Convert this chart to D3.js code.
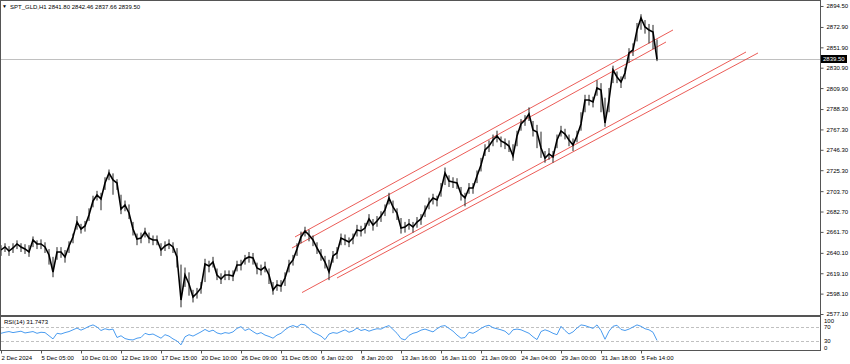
<!DOCTYPE html>
<html>
<head>
<meta charset="utf-8">
<script src="https://cdn.jsdelivr.net/npm/d3@7"></script>
<style>
  body { margin: 0; background: #fff; }
  svg text { font-family: "Liberation Sans", Arial, sans-serif; fill: #000; }
</style>
</head>
<body>
<div id="chart"></div>
<script>
// Hourly closes (one sample every few bars)
const closes = [
  2643.1, 2646.2, 2642.0, 2645.1, 2649.3, 2646.2, 2644.1, 2641.0, 2653.4, 2649.3,
  2649.3, 2646.2, 2637.9, 2620.4, 2641.0, 2641.0, 2635.9, 2647.2, 2656.5, 2671.9,
  2664.7, 2667.8, 2679.1, 2693.6, 2699.8, 2695.6, 2712.1, 2722.4, 2715.2, 2712.1,
  2685.3, 2689.4, 2681.2, 2664.7, 2654.4, 2655.4, 2661.6, 2655.4, 2653.4, 2653.4,
  2643.1, 2647.2, 2649.3, 2646.2, 2635.9, 2591.5, 2617.3, 2608.0, 2594.6, 2598.8,
  2603.9, 2628.6, 2626.6, 2630.7, 2617.3, 2613.2, 2617.3, 2617.3, 2616.3, 2627.6,
  2627.6, 2633.8, 2635.9, 2634.8, 2624.5, 2622.5, 2625.6, 2617.3, 2601.9, 2607.0,
  2606.0, 2614.2, 2627.6, 2632.8, 2644.1, 2656.5, 2662.7, 2658.5, 2653.4, 2645.1,
  2637.9, 2630.7, 2620.4, 2636.9, 2640.0, 2655.4, 2653.4, 2651.3, 2655.4, 2663.7,
  2662.7, 2665.7, 2675.0, 2668.8, 2673.0, 2678.1, 2684.3, 2696.7, 2687.4, 2681.2,
  2665.7, 2666.8, 2669.9, 2666.8, 2671.9, 2675.0, 2683.3, 2691.5, 2696.7, 2694.6,
  2704.9, 2722.4, 2714.2, 2713.1, 2712.1, 2700.8, 2696.7, 2707.0, 2707.0, 2719.3,
  2730.7, 2746.1, 2750.2, 2756.4, 2760.6, 2755.4, 2753.3, 2750.2, 2739.9, 2760.6,
  2772.9, 2777.0, 2783.2, 2766.7, 2764.7, 2748.2, 2737.9, 2742.0, 2738.9, 2756.4,
  2765.7, 2762.6, 2756.4, 2751.3, 2760.6, 2772.9, 2797.6, 2797.6, 2795.6, 2810.0,
  2808.0, 2773.9, 2797.6, 2828.6, 2821.4, 2816.2, 2825.5, 2846.1, 2849.2, 2869.8,
  2882.2, 2872.9, 2869.8, 2867.7, 2839.5
];

// highs and lows of the same stretches
const highs = [
  2648, 2650, 2647, 2650, 2653, 2650, 2649, 2648, 2657, 2653,
  2654, 2651, 2644, 2636, 2646, 2646, 2643, 2652, 2660, 2678,
  2670, 2673, 2686, 2699, 2704, 2702, 2718, 2726, 2722, 2716,
  2700, 2694, 2690, 2672, 2660, 2661, 2666, 2661, 2658, 2658,
  2650, 2652, 2654, 2651, 2645, 2628, 2625, 2620, 2602, 2604,
  2610, 2634, 2632, 2636, 2624, 2619, 2622, 2622, 2622, 2632,
  2633, 2638, 2641, 2640, 2630, 2628, 2631, 2624, 2610, 2612,
  2612, 2620, 2633, 2638, 2650, 2662, 2667, 2664, 2658, 2651,
  2644, 2637, 2633, 2642, 2646, 2660, 2659, 2656, 2660, 2669,
  2668, 2671, 2680, 2675, 2678, 2683, 2690, 2702, 2694, 2686,
  2676, 2672, 2675, 2672, 2677, 2680, 2689, 2697, 2701, 2699,
  2712, 2728, 2720, 2718, 2717, 2708, 2702, 2712, 2712, 2725,
  2738, 2752, 2756, 2762, 2766, 2760, 2758, 2756, 2752, 2766,
  2778, 2782, 2790, 2776, 2772, 2765, 2745, 2748, 2745, 2762,
  2771, 2768, 2762, 2758, 2766, 2785, 2803, 2803, 2801, 2818,
  2815, 2800, 2810, 2833, 2827, 2822, 2831, 2851, 2856, 2877,
  2886, 2880, 2876, 2875, 2860
];
const lows = [
  2637, 2641, 2637, 2640, 2644, 2641, 2639, 2636, 2646, 2644,
  2644, 2640, 2628, 2615, 2633, 2635, 2630, 2640, 2650, 2664,
  2660, 2662, 2673, 2687, 2694, 2684, 2705, 2715, 2700, 2705,
  2680, 2683, 2675, 2658, 2648, 2650, 2656, 2650, 2648, 2648,
  2637, 2642, 2644, 2640, 2625, 2584, 2605, 2596, 2589, 2593,
  2598, 2610, 2620, 2625, 2612, 2608, 2612, 2612, 2611, 2621,
  2622, 2628, 2630, 2628, 2618, 2617, 2620, 2608, 2597, 2601,
  2600, 2606, 2620, 2627, 2637, 2650, 2657, 2652, 2647, 2639,
  2632, 2624, 2612, 2630, 2634, 2648, 2648, 2646, 2649, 2657,
  2657, 2660, 2668, 2663, 2667, 2672, 2678, 2690, 2681, 2674,
  2660, 2661, 2664, 2661, 2666, 2669, 2677, 2685, 2690, 2688,
  2698, 2710, 2708, 2707, 2706, 2694, 2688, 2701, 2701, 2712,
  2724, 2740, 2744, 2750, 2754, 2749, 2747, 2744, 2735, 2750,
  2766, 2771, 2776, 2760, 2748, 2738, 2733, 2736, 2733, 2748,
  2760, 2757, 2750, 2745, 2754, 2766, 2785, 2792, 2790, 2802,
  2785, 2770, 2785, 2815, 2815, 2810, 2819, 2836, 2843, 2858,
  2870, 2866, 2856, 2850, 2837.7
];

// RSI(14) at the same samples
const rsi = [
  52, 55, 57, 54, 56, 58, 53, 55, 57, 52,
  55, 54, 45, 36, 52, 50, 54, 57, 62, 67,
  61, 66, 72, 76, 70, 60, 65, 62, 64, 40,
  45, 37, 34, 33, 38, 40, 52, 48, 50, 44,
  38, 48, 44, 36, 30, 19, 42, 48, 44, 50,
  56, 63, 57, 61, 53, 50, 54, 52, 56, 66,
  71, 60, 65, 57, 50, 54, 47, 43, 38, 47,
  52, 62, 70, 74, 70, 78, 76, 66, 55, 50,
  44, 34, 50, 54, 52, 57, 62, 55, 59, 67,
  60, 63, 58, 62, 65, 64, 70, 74, 63, 52,
  37, 33, 46, 52, 55, 61, 64, 60, 56, 65,
  72, 74, 66, 58, 47, 38, 40, 55, 52, 58,
  66, 72, 75, 68, 65, 62, 58, 48, 62, 64,
  62, 57, 52, 42, 34, 57, 62, 58, 52, 48,
  72, 60, 50, 56, 67, 76, 74, 70, 66, 76,
  60, 35, 58, 72, 75, 63, 60, 64, 70, 76,
  72, 65, 62, 55, 31.7
];

const timeLabels = ["2 Dec 2024", "5 Dec 05:00", "10 Dec 01:00", "12 Dec 19:00", "17 Dec 15:00",
  "20 Dec 10:00", "26 Dec 09:00", "31 Dec 05:00", "6 Jan 02:00", "8 Jan 20:00", "13 Jan 16:00",
  "16 Jan 11:00", "21 Jan 09:00", "24 Jan 04:00", "29 Jan 00:00", "31 Jan 18:00", "5 Feb 14:00"];
const timeTickIdx = [0, 10, 20, 30, 40, 50, 60, 70, 80, 90, 100, 110, 120, 130, 140, 150, 160];

const priceTicks = [2894.5, 2872.9, 2851.9, 2830.9, 2809.9, 2788.3, 2767.3, 2746.3,
  2725.3, 2703.7, 2682.7, 2661.7, 2640.1, 2619.1, 2598.1, 2577.1];
const rsiLevels = [70, 30];
const rsiLabels = [100, 70, 30, 0];

// channel lines: [startIndex, startPrice, endIndex, endPrice]
const channels = [
  [73.5, 2656.5, 168, 2869.8],
  [72.75, 2645.1, 166.25, 2857.4],
  [75.25, 2599.2, 186.25, 2847.1],
  [84, 2614.2, 189.25, 2846.1]
];

const lastBar = { open: 2841.80, high: 2842.46, low: 2837.66, close: 2839.50 };

const width = 850, height = 364;
const plotRight = 820;
const mainBottom = 315;

const svg = d3.select("#chart").append("svg")
    .attr("width", width)
    .attr("height", height);

const x = d3.scaleLinear().domain([0, 164]).range([1, 657]);
const y = d3.scaleLinear().domain([2576.07, 2900.68]).range([mainBottom, 0]);
const yr = d3.scaleLinear().domain([0, 100]).range([351.5, 316.5]);

// clip areas
const defs = svg.append("defs");
defs.append("clipPath").attr("id", "clipMain")
    .append("rect").attr("x", 1).attr("y", 1).attr("width", plotRight - 1).attr("height", mainBottom - 1);
defs.append("clipPath").attr("id", "clipRsi")
    .append("rect").attr("x", 1).attr("y", 317).attr("width", plotRight - 1).attr("height", 33);

// bid line
svg.append("line")
    .attr("x1", 1).attr("x2", plotRight)
    .attr("y1", Math.round(y(lastBar.close)) + 0.5).attr("y2", Math.round(y(lastBar.close)) + 0.5)
    .attr("stroke", "#c0c0c0");

// channel lines
svg.append("g").attr("clip-path", "url(#clipMain)")
    .selectAll("line").data(channels).enter().append("line")
    .attr("x1", d => x(d[0])).attr("y1", d => y(d[1]))
    .attr("x2", d => x(d[2])).attr("y2", d => y(d[3]))
    .attr("stroke", "#e8403a")
    .attr("stroke-opacity", 0.85)
    .attr("stroke-width", 1);

// price: high-low bars plus a close line
const priceG = svg.append("g").attr("clip-path", "url(#clipMain)");

priceG.selectAll(".bar")
    .data(closes)
    .enter()
    .append("line")
    .attr("class", "bar")
    .attr("x1", (d, i) => x(i)).attr("x2", (d, i) => x(i))
    .attr("y1", (d, i) => y(highs[i]))
    .attr("y2", (d, i) => y(lows[i]))
    .attr("stroke", "#222")
    .attr("stroke-width", 1);

const line = d3.line()
    .x((d, i) => x(i))
    .y(d => y(d));

priceG.append("path")
    .datum(closes)
    .attr("fill", "none")
    .attr("stroke", "#000")
    .attr("stroke-width", 1.6)
    .attr("d", line);

// rsi levels
svg.selectAll(".rsi-level").data(rsiLevels).enter().append("line")
    .attr("class", "rsi-level")
    .attr("x1", 1).attr("x2", plotRight)
    .attr("y1", d => Math.round(yr(d)) + 0.5).attr("y2", d => Math.round(yr(d)) + 0.5)
    .attr("stroke", "#c0c0c0")
    .attr("stroke-dasharray", "3,2");

// rsi line
const rsiLine = d3.line()
    .x((d, i) => x(i))
    .y(d => yr(d));

svg.append("path")
    .datum(rsi)
    .attr("clip-path", "url(#clipRsi)")
    .attr("fill", "none")
    .attr("stroke", "#4a9cf0")
    .attr("stroke-width", 1)
    .attr("d", rsiLine);

// pane borders
svg.append("rect")
    .attr("x", 0.5).attr("y", 0.5).attr("width", plotRight).attr("height", mainBottom)
    .attr("fill", "none").attr("stroke", "#555");
svg.append("rect")
    .attr("x", 0.5).attr("y", 316.5).attr("width", plotRight).attr("height", 34)
    .attr("fill", "none").attr("stroke", "#555");

// price axis
const yAxis = svg.append("g")
    .attr("transform", "translate(" + (plotRight + 0.5) + ",0)")
    .call(d3.axisRight(y).tickValues(priceTicks).tickFormat(d3.format(".2f")).tickSize(3).tickPadding(3));
yAxis.select(".domain").remove();
yAxis.selectAll("line").attr("stroke", "#555");
yAxis.selectAll("text").style("font-size", "6px").attr("fill", "#000");

// last price tag
const tagY = Math.round(y(lastBar.close));
svg.append("rect")
    .attr("x", plotRight + 1).attr("y", tagY - 4).attr("width", 26).attr("height", 8)
    .attr("fill", "#000");
svg.append("text")
    .attr("x", plotRight + 3).attr("y", tagY)
    .attr("dy", "0.35em")
    .style("font-size", "6px")
    .style("fill", "#fff")
    .text(lastBar.close.toFixed(2));

// rsi axis labels
svg.selectAll(".rsi-label").data(rsiLabels).enter().append("text")
    .attr("class", "rsi-label")
    .attr("x", plotRight + 4)
    .attr("y", d => d === 100 ? 321 : d === 0 ? 347.5 : yr(d))
    .attr("dy", "0.35em")
    .style("font-size", "6px")
    .text(d => d);

// time axis
const xAxis = svg.append("g")
    .attr("transform", "translate(0,350.5)")
    .call(d3.axisBottom(x).tickValues(timeTickIdx).tickFormat((d, i) => timeLabels[i]).tickSize(3).tickPadding(2));
xAxis.select(".domain").remove();
xAxis.selectAll("line").attr("stroke", "#555");
xAxis.selectAll("text")
    .attr("text-anchor", "start")
    .attr("dx", 0)
    .style("font-size", "6px");

// header
svg.append("text")
    .attr("x", 2).attr("y", 8)
    .style("font-size", "5px")
    .text("\u25BC");
svg.append("text")
    .attr("x", 10).attr("y", 8.5)
    .style("font-size", "6px")
    .text("SPT_GLD,H1  " + [lastBar.open, lastBar.high, lastBar.low, lastBar.close].map(d => d.toFixed(2)).join(" "));

svg.append("text")
    .attr("x", 4).attr("y", 324)
    .style("font-size", "6px")
    .text("RSI(14) " + "31.7473");
</script>
</body>
</html>
